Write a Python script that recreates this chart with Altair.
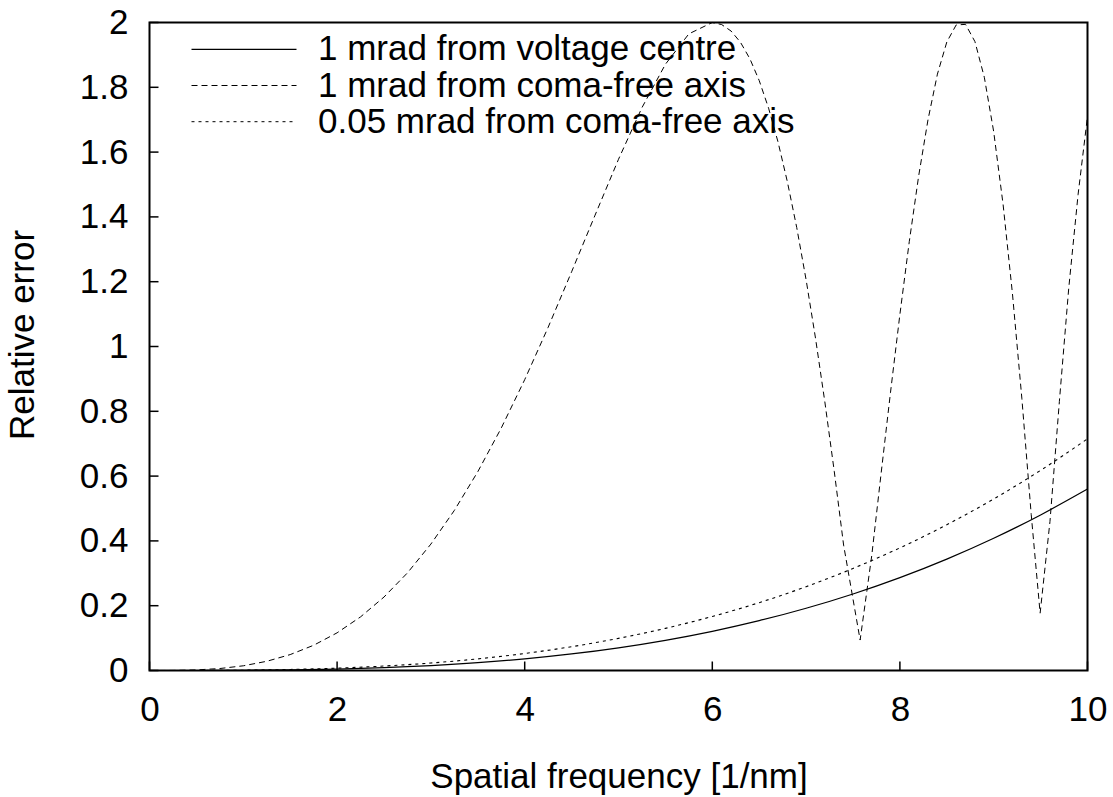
import altair as alt
import pandas as pd

# ---- data ----
x_solid = [0, 0.5, 1, 1.5, 2, 2.5, 3, 3.5, 4, 4.5, 5, 5.5, 6, 6.5, 7, 7.5, 8, 8.5, 9, 9.5, 10]
y_solid = [0, 0.00007, 0.00056, 0.00189, 0.00448, 0.00875, 0.01512, 0.02401, 0.03584, 0.05103,
           0.07, 0.09317, 0.12096, 0.15379, 0.19208, 0.23625, 0.28672, 0.34391, 0.40824, 0.48013, 0.56]

x_dotted = [0, 0.5, 1, 1.5, 2, 2.5, 3, 3.5, 4, 4.5, 5, 5.5, 6, 6.5, 7, 7.5, 8, 8.5, 9, 9.5, 10]
y_dotted = [0, 0.00014, 0.0010, 0.0032, 0.0073, 0.0138, 0.0231, 0.0359, 0.0525, 0.0735,
            0.0992, 0.1301, 0.1668, 0.2094, 0.2587, 0.3150, 0.3785, 0.4499, 0.5295, 0.6178, 0.715]

x_dashed = [0, 0.25, 0.5, 0.75, 1.0, 1.25, 1.5, 1.75, 2.0, 2.25, 2.5, 2.75, 3.0, 3.25, 3.5, 3.75,
            4.0, 4.25, 4.5, 4.75, 5.0, 5.25, 5.5, 5.75, 6.0,
            6.1, 6.2, 6.3, 6.4, 6.5, 6.6, 6.7, 6.8, 6.9, 7.0, 7.1, 7.2, 7.3, 7.4, 7.576,
            7.7, 7.8, 7.9, 8.0, 8.1, 8.2, 8.3, 8.4, 8.5, 8.6, 8.7, 8.8, 8.9, 9.0, 9.1, 9.2,
            9.3, 9.4, 9.495, 9.6, 9.7, 9.8, 9.9, 10.0]
y_dashed = [0, 0.0002, 0.0018, 0.0061, 0.0145, 0.0284, 0.0491, 0.0779, 0.1163, 0.1655, 0.2268,
            0.3013, 0.3902, 0.4941, 0.6136, 0.7483, 0.8976, 1.0593, 1.2305, 1.4053, 1.5778,
            1.7372, 1.8710, 1.9649, 2.0,
            1.9936, 1.9737, 1.9390, 1.8885, 1.8209, 1.7357, 1.6320, 1.5089, 1.3673, 1.2060,
            1.0262, 0.8287, 0.6151, 0.3870, 0.094,
            0.3550, 0.6091, 0.8589, 1.0990, 1.3237, 1.5263, 1.7006, 1.8407, 1.9397, 1.9925,
            1.9942, 1.9410, 1.8310, 1.6629, 1.4388, 1.1627, 0.8406, 0.4812, 0.177,
            0.46, 0.83, 1.18, 1.47, 1.71]

series_names = ["1 mrad from voltage centre",
                "1 mrad from coma-free axis",
                "0.05 mrad from coma-free axis"]

x_ticks = [0, 2, 4, 6, 8, 10]
y_ticks = [0, 0.2, 0.4, 0.6, 0.8, 1, 1.2, 1.4, 1.6, 1.8, 2]

# ---- layout / style ----
W, H = 938, 648
FONT = "Liberation Sans"
FS = 35
dashes = [[1, 0], [6, 4], [3, 4]]

xs = alt.Scale(domain=[0, 10], nice=False, zero=False)
ys = alt.Scale(domain=[0, 2], nice=False, zero=False)

x_axis = alt.Axis(values=x_ticks, title="Spatial frequency [1/nm]", grid=False, domain=False,
                  ticks=False, tickSize=0, labelPadding=22, labelFontSize=FS, labelFont=FONT,
                  labelColor="black", titleFont=FONT, titleFontSize=FS, titleFontWeight="normal",
                  titleColor="black", titleX=W / 2, titleY=116.5, titleBaseline="alphabetic",
                  titleAlign="center", labelFlush=False, format="d")
y_axis = alt.Axis(values=y_ticks, title="Relative error", grid=False, domain=False,
                  ticks=False, tickSize=0, labelPadding=21.5, labelFontSize=FS, labelFont=FONT,
                  labelColor="black", titleFont=FONT, titleFontSize=FS, titleFontWeight="normal",
                  titleColor="black", titleAngle=270, titleX=-116.5, titleY=312,
                  titleBaseline="alphabetic", titleAlign="center", labelFlush=False,
                  labelExpr="datum.value == 0 ? '0' : format(datum.value, '')")

df_solid = pd.DataFrame({"x": x_solid, "y": y_solid})
df_dashed = pd.DataFrame({"x": x_dashed, "y": y_dashed})
df_dotted = pd.DataFrame({"x": x_dotted, "y": y_dotted})

solid = alt.Chart(df_solid).mark_line(color="black", strokeWidth=1.2, interpolate="monotone").encode(
    x=alt.X("x:Q", scale=xs, axis=x_axis), y=alt.Y("y:Q", scale=ys, axis=y_axis))
dashed = alt.Chart(df_dashed).mark_line(color="black", strokeWidth=1, strokeDash=dashes[1]).encode(
    x=alt.X("x:Q", scale=xs), y=alt.Y("y:Q", scale=ys))
dotted = alt.Chart(df_dotted).mark_line(color="black", strokeWidth=1.1, strokeDash=dashes[2],
                                        interpolate="monotone").encode(
    x=alt.X("x:Q", scale=xs), y=alt.Y("y:Q", scale=ys))

# inward ticks on left and bottom
xt = alt.Chart(pd.DataFrame({"v": x_ticks})).mark_rule(color="black", strokeWidth=1.5).encode(
    x=alt.X("v:Q", scale=xs), y=alt.value(H), y2=alt.value(H - 9))
yt = alt.Chart(pd.DataFrame({"v": y_ticks})).mark_rule(color="black", strokeWidth=1.5).encode(
    y=alt.Y("v:Q", scale=ys), x=alt.value(0), x2=alt.value(9))

# legend (manual, gnuplot style)
legend_layers = []
row0, row_gap = 26.8, 36.2
for i, name in enumerate(series_names):
    yy = row0 + i * row_gap
    ld = pd.DataFrame({"label": [name]})
    legend_layers.append(
        alt.Chart(ld).mark_rule(color="black", strokeWidth=1.2 if i == 0 else 1,
                                strokeDash=dashes[i]).encode(
            x=alt.value(42), x2=alt.value(147), y=alt.value(yy)))
    legend_layers.append(
        alt.Chart(ld).mark_text(align="left", baseline="middle", font=FONT, fontSize=FS,
                                color="black").encode(
            text="label:N", x=alt.value(168.5), y=alt.value(yy)))

chart = alt.layer(solid, dashed, dotted, xt, yt, *legend_layers).properties(
    width=W, height=H,
    autosize=alt.AutoSizeParams(type="none"),
    padding={"left": 149.5, "top": 22.5, "right": 25.5, "bottom": 126.5},
    background="white",
).configure_view(stroke="black", strokeWidth=2)

chart.save("out.html", embed_options={"renderer": "svg", "actions": False})
